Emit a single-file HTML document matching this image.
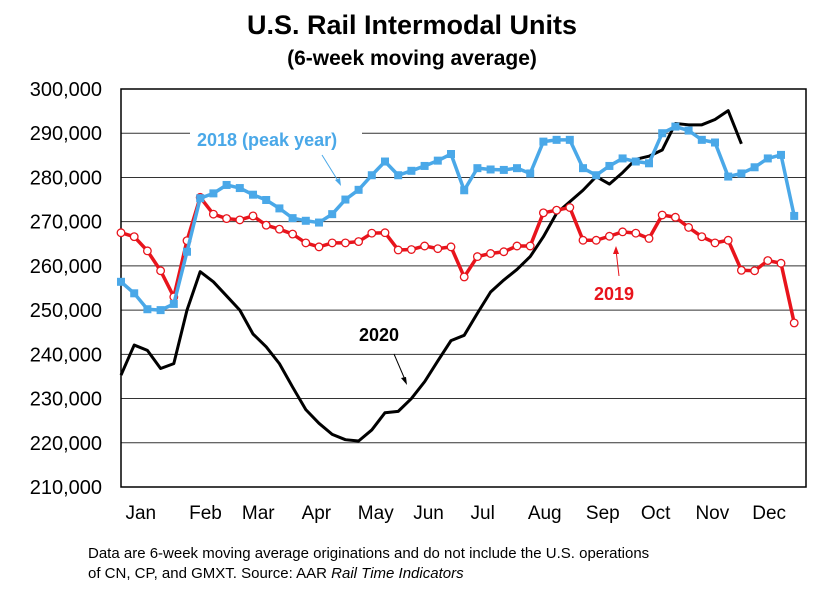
<!DOCTYPE html>
<html><head><meta charset="utf-8"><style>
body{margin:0;background:#fff;width:825px;height:587px;overflow:hidden;font-family:"Liberation Sans",Arial,sans-serif}
</style></head><body>
<svg width="825" height="587" font-family="Liberation Sans, Arial, sans-serif">
<text x="412" y="34" text-anchor="middle" font-size="27" font-weight="bold">U.S. Rail Intermodal Units</text>
<text x="412" y="65" text-anchor="middle" font-size="21" font-weight="bold">(6-week moving average)</text>
<g id="grid"></g>
<g id="ylab"></g>
<g id="xlab"></g>
<rect x="121" y="89" width="685" height="398" fill="none" stroke="#000" stroke-width="1.5"/>
<g id="series"></g>
<rect x="190" y="124" width="172" height="26" fill="#fff"/>
<text x="197" y="146" font-size="18" font-weight="bold" fill="#4aa8e8">2018 (peak year)</text>
<line x1="322" y1="155" x2="340" y2="184" stroke="#4aa8e8" stroke-width="1"/>
<polygon points="341,186 335,180 340,178" fill="#4aa8e8"/>
<text x="359" y="341" font-size="18" font-weight="bold" fill="#000">2020</text>
<line x1="394" y1="354" x2="406" y2="382" stroke="#000" stroke-width="1"/>
<polygon points="407,385 401,378 406,377" fill="#000"/>
<text x="594" y="300" font-size="18" font-weight="bold" fill="#e8141c">2019</text>
<line x1="619" y1="276" x2="616" y2="250" stroke="#e8141c" stroke-width="1"/>
<polygon points="616,246 613,254 619,254" fill="#e8141c"/>
<text x="88" y="558" font-size="15">Data are 6-week moving average originations and do not include the U.S. operations</text>
<text x="88" y="578" font-size="15">of CN, CP, and GMXT.   Source: AAR <tspan font-style="italic">Rail Time Indicators</tspan></text>
</svg>
<script>
const yTicks=[210000,220000,230000,240000,250000,260000,270000,280000,290000,300000];
const months=["Jan","Feb","Mar","Apr","May","Jun","Jul","Aug","Sep","Oct","Nov","Dec"];
const monthPos=[1.5,6.4,10.4,14.8,19.3,23.3,27.4,32.1,36.5,40.5,44.8,49.1];
const s2018=[256.4,253.8,250.2,250.0,251.4,263.2,275.3,276.4,278.3,277.6,276.1,274.9,273.0,270.8,270.2,269.8,271.7,275.0,277.2,280.5,283.6,280.5,281.5,282.6,283.8,285.3,277.1,282.1,281.8,281.7,282.1,280.9,288.1,288.5,288.5,282.1,280.5,282.6,284.3,283.6,283.2,290.0,291.5,290.6,288.5,287.9,280.2,280.9,282.3,284.3,285.1,271.3];
const s2019=[267.5,266.6,263.4,258.9,253.0,265.7,275.5,271.7,270.7,270.4,271.3,269.2,268.3,267.2,265.2,264.3,265.2,265.2,265.5,267.4,267.5,263.6,263.7,264.5,263.9,264.3,257.5,262.1,262.8,263.2,264.5,264.5,272.0,272.6,273.2,265.8,265.8,266.7,267.7,267.4,266.2,271.5,271.0,268.7,266.6,265.2,265.8,259.0,258.9,261.2,260.6,247.1];
const s2020=[235.3,242.1,240.9,236.8,237.9,250.0,258.7,256.4,253.2,250.0,244.6,241.7,237.9,232.6,227.5,224.4,221.9,220.7,220.4,222.9,226.8,227.1,230.0,233.8,238.5,243.1,244.3,249.3,254.1,256.8,259.2,262.1,266.6,271.9,274.5,277.1,280.2,278.5,281.1,284.1,284.8,286.2,292.2,291.9,291.9,293.1,295.1,287.6];
const NS="http://www.w3.org/2000/svg";
const X0=121,STEP=13.2,Y0=487,Y1=89,VMIN=210000,VMAX=300000;
const xs=i=>X0+STEP*i;
const ys=v=>Y0-(v-VMIN)/(VMAX-VMIN)*(Y0-Y1);
function mk(tag,attrs,parent){const e=document.createElementNS(NS,tag);for(const k in attrs)e.setAttribute(k,attrs[k]);parent.appendChild(e);return e;}
const grid=document.getElementById('grid'),ylab=document.getElementById('ylab'),xlab=document.getElementById('xlab'),ser=document.getElementById('series');
yTicks.forEach(t=>{
  const y=ys(t);
  const l=mk('line',{x1:X0,x2:806,y1:y,y2:y,stroke:'#333','stroke-width':1},grid);
  
  
  const tx=mk('text',{x:102,y:y+7,'text-anchor':'end','font-size':20},ylab);
  tx.textContent=t.toLocaleString('en-US');
  
  
});
months.forEach((m,i)=>{
  const tx=mk('text',{x:xs(monthPos[i]),y:519,'text-anchor':'middle','font-size':19},xlab);
  tx.textContent=m;
  
  
});
function line(data,color,w,name){
  const p=mk('polyline',{points:data.map((v,i)=>xs(i)+','+ys(v*1000)).join(' '),fill:'none',stroke:color,'stroke-width':w,'stroke-linejoin':'round'},ser);
  
  
}
line(s2020,'#000',3,'line-2020');
line(s2019,'#e8141c',3.5,'line-2019');
s2019.forEach((v,i)=>{
  const c=mk('circle',{cx:xs(i),cy:ys(v*1000),r:3.8,fill:'#fff',stroke:'#e8141c','stroke-width':1.3},ser);
  
  
});
line(s2018,'#4aa8e8',3.5,'line-2018');
s2018.forEach((v,i)=>{
  const r=mk('rect',{x:xs(i)-4,y:ys(v*1000)-4,width:8,height:8,fill:'#4aa8e8'},ser);
  
  
});
</script>
</body></html>
